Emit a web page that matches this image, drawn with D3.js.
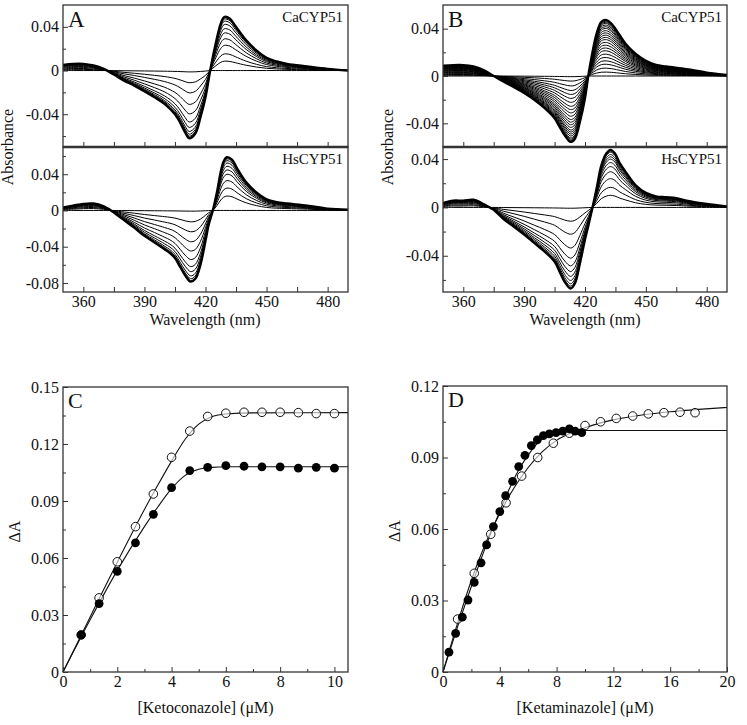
<!DOCTYPE html>
<html>
<head>
<meta charset="utf-8">
<script src="https://cdn.jsdelivr.net/npm/d3@7"></script>
<style>
  body { margin: 0; background: #fff; }
  svg text { font-family: "Liberation Serif", "Times New Roman", serif; fill: #111; }
  .tick text { font-size: 16px; }
  .tick line { stroke: #333; }
</style>
</head>
<body>
<div id="chart"></div>
<script>
// ---- data ----
// thickest (saturated) difference spectrum of each sub-panel: [nm, absorbance]
const caKetoBase = [[350,0.0052],[355,0.0061],[360,0.0061],[365,0.0046],[370,0.0015],[375,-0.0037],[380,-0.0092],[385,-0.0138],[390,-0.019],[395,-0.0245],[400,-0.0307],[405,-0.040],[407.5,-0.0475],[410,-0.0567],[412,-0.062],[415,-0.0576],[417.5,-0.043],[420,-0.0245],[422.3,0],[425,0.0245],[427.5,0.043],[429.2,0.049],[432,0.0475],[434.6,0.041],[440,0.0276],[445,0.0184],[450,0.0116],[455,0.0083],[460,0.0061],[470,0.0037],[480,0.0015],[490,0]];
const hsKetoBase = [[350,0.0034],[355,0.0053],[360,0.0072],[365,0.0076],[370,0.0046],[373,0.0008],[375,-0.0023],[380,-0.0107],[385,-0.019],[390,-0.028],[395,-0.0354],[400,-0.043],[402.5,-0.047],[405,-0.0526],[407.5,-0.062],[410,-0.0716],[412.7,-0.0785],[415,-0.0754],[417.5,-0.060],[420,-0.0335],[421.5,-0.0164],[423.6,0],[425.6,0.0198],[427.5,0.0427],[428.9,0.054],[430.5,0.0587],[433,0.056],[435.5,0.0465],[440,0.031],[445,0.0198],[450,0.0122],[455,0.0091],[460,0.0076],[470,0.0053],[480,0.0019],[490,0.0008]];
const caKetaBase = [[350,0.0086],[355,0.0092],[360,0.0092],[365,0.008],[370,0.0049],[375,0],[380,-0.0049],[385,-0.0094],[390,-0.0143],[395,-0.020],[400,-0.027],[405,-0.0357],[407.5,-0.043],[410,-0.050],[412.9,-0.0557],[415,-0.053],[417.5,-0.0386],[420,-0.0186],[421.6,0],[423.2,0.0157],[425.7,0.0357],[428.1,0.0458],[430.6,0.0472],[433,0.0443],[435.5,0.0386],[440,0.0272],[445,0.0186],[450,0.0129],[455,0.0094],[460,0.008],[470,0.0057],[480,0.0029],[490,0.0009]];
const hsKetaBase = [[350,0.0036],[355,0.0056],[360,0.0056],[365,0.0064],[370,0.0028],[373,0],[375,-0.002],[380,-0.0098],[385,-0.016],[390,-0.0224],[395,-0.0294],[400,-0.0364],[405,-0.0448],[407.5,-0.0532],[410,-0.0616],[412.9,-0.0672],[415,-0.063],[417.5,-0.0462],[420,-0.0266],[421.6,-0.0154],[423.7,0],[425.7,0.0154],[428.1,0.035],[430.6,0.0448],[432.6,0.0476],[434.7,0.0448],[437.2,0.0364],[440,0.0294],[445,0.0182],[450,0.012],[455,0.0092],[460,0.0084],[465,0.0076],[470,0.0056],[480,0.0028],[490,0.0008]];

// relative size of each titration spectrum (peak side / trough side)
const caKetoPos = [0, 0.175, 0.31, 0.47, 0.59, 0.70, 0.78, 0.86, 0.92, 0.96, 0.985, 1.0];
const caKetoNeg = [0.02, 0.18, 0.33, 0.50, 0.64, 0.76, 0.84, 0.90, 0.94, 0.97, 0.99, 1.0];
const hsKetoPos = [0, 0.27, 0.42, 0.56, 0.68, 0.76, 0.83, 0.89, 0.935, 0.97, 0.99, 1.0];
const hsKetoNeg = [0.01, 0.16, 0.30, 0.44, 0.57, 0.69, 0.79, 0.86, 0.92, 0.96, 0.99, 1.0];
const caKetaPos = [0, 0.07, 0.14, 0.21, 0.27, 0.33, 0.39, 0.45, 0.50, 0.55, 0.60, 0.65, 0.69, 0.73, 0.77, 0.81, 0.85, 0.88, 0.91, 0.94, 0.96, 0.98, 1.0];
const caKetaNeg = [0.01, 0.077, 0.15, 0.22, 0.28, 0.34, 0.40, 0.46, 0.51, 0.56, 0.61, 0.66, 0.70, 0.74, 0.78, 0.82, 0.85, 0.88, 0.91, 0.94, 0.96, 0.98, 1.0];
const hsKetaPos = [0, 0.21, 0.35, 0.50, 0.62, 0.71, 0.78, 0.84, 0.88, 0.92, 0.96, 0.98, 1.0];
const hsKetaNeg = [0.01, 0.17, 0.33, 0.50, 0.625, 0.72, 0.79, 0.85, 0.90, 0.94, 0.97, 0.99, 1.0];

// panel C : ketoconazole titration
const ketoConc = [0.67, 1.33, 2, 2.67, 3.33, 4, 4.67, 5.33, 6, 6.67, 7.33, 8, 8.67, 9.33, 10];
const ketoOpen = [0.0195, 0.039, 0.058, 0.0765, 0.0937, 0.113, 0.1268, 0.1345, 0.1362, 0.1367, 0.1367, 0.1367, 0.1365, 0.136, 0.136];
const ketoFilled = [0.0195, 0.036, 0.053, 0.068, 0.083, 0.097, 0.106, 0.1077, 0.1086, 0.1083, 0.108, 0.108, 0.1073, 0.1077, 0.1073];
const ketoOpenFit = [[0,0],[1,0.029],[2,0.0578],[3,0.0855],[3.5,0.0985],[4,0.111],[4.5,0.1225],[5,0.1305],[5.5,0.1345],[6,0.1358],[7,0.1364],[10.5,0.1365]];
const ketoFilledFit = [[0,0],[1,0.0275],[2,0.0535],[3,0.0765],[3.5,0.087],[4,0.0965],[4.5,0.1035],[5,0.1067],[5.5,0.1077],[6,0.108],[10.5,0.108]];

// panel D : ketaminazole titration
const ketaConcFilled = [0.42, 0.89, 1.36, 1.76, 2.2, 2.68, 3.07, 3.55, 4.0, 4.41, 4.9, 5.33, 5.77, 6.22, 6.64, 7.07, 7.49, 7.96, 8.43, 8.9, 9.3, 9.77];
const ketaFilled = [0.0083, 0.0162, 0.023, 0.0302, 0.0376, 0.0458, 0.0533, 0.061, 0.0673, 0.074, 0.080, 0.0862, 0.0909, 0.095, 0.0974, 0.0992, 0.0999, 0.1004, 0.1011, 0.102, 0.1011, 0.1004];
const ketaConcOpen = [1.03, 2.2, 3.36, 4.44, 5.54, 6.67, 7.77, 8.9, 10.0, 11.1, 12.2, 13.36, 14.46, 15.56, 16.69, 17.75];
const ketaOpen = [0.0222, 0.0414, 0.0578, 0.071, 0.0822, 0.090, 0.096, 0.1002, 0.1034, 0.105, 0.1064, 0.1074, 0.1083, 0.1088, 0.109, 0.1088];
const ketaFilledFit = [[0,0],[1,0.0185],[2,0.036],[3,0.0525],[4,0.0675],[5,0.081],[5.5,0.0865],[6,0.091],[6.5,0.095],[7,0.0978],[7.5,0.0995],[8,0.1005],[9,0.1011],[10,0.1013],[20,0.1013]];
const ketaOpenFit = [[0,0],[1,0.020],[2,0.0385],[3,0.054],[4,0.0665],[5,0.0772],[6,0.0858],[7,0.0925],[8,0.0972],[9,0.1002],[10,0.1025],[12,0.1058],[14,0.1078],[16,0.1092],[18,0.1102],[20,0.111]];

// ---- drawing ----
const W = 747, H = 725;
const svg = d3.select("#chart").append("svg").attr("width", W).attr("height", H);
const frameColor = "#333";
const fmt = d => d === 0 ? "0" : d3.format(".2f")(d).replace("\u2212", "-");

const addTicks = (g, axis, vals, size, fmtFn) => {
  g.call(axis.tickValues(vals).tickSizeInner(-size).tickSizeOuter(0).tickPadding(4).tickFormat(fmtFn));
  g.attr("font-family", null).attr("font-size", null);
  g.select(".domain").remove();
};

let clipId = 0;
const spectrumPanel = (x0, x1, y0, y1, yDomain, yMajors, yMinors, base, pos, neg, name, letter, showX) => {
  const x = d3.scaleLinear().domain([350, 490]).range([x0, x1]);
  const y = d3.scaleLinear().domain(yDomain).range([y1, y0]);
  const g = svg.append("g");
  const id = "clip" + (clipId++);
  svg.append("clipPath").attr("id", id).append("rect")
    .attr("x", x0).attr("y", y0).attr("width", x1 - x0).attr("height", y1 - y0);

  const line = d3.line().x(d => x(d[0])).y(d => y(d[1])).curve(d3.curveCatmullRom.alpha(0.5));
  const curves = g.append("g").attr("clip-path", `url(#${id})`);
  pos.forEach((p, i) => {
    const n = neg[i];
    const pts = base.map(d => [d[0], d[1] > 0 ? d[1] * p : d[1] * n]);
    curves.append("path")
      .attr("d", line(pts))
      .attr("fill", "none")
      .attr("stroke", "#000")
      .attr("stroke-width", i === pos.length - 1 ? 2.4 : 1.0);
  });

  // ticks
  addTicks(g.append("g").attr("transform", `translate(${x0},0)`), d3.axisLeft(y), yMajors, 5, fmt);
  addTicks(g.append("g").attr("transform", `translate(${x0},0)`), d3.axisLeft(y), yMinors, 3, "");
  addTicks(g.append("g").attr("transform", `translate(0,${y1})`), d3.axisBottom(x),
    d3.range(360, 490, 15), 5, showX ? (d => d % 30 === 0 ? d : "") : "");

  g.append("rect").attr("x", x0).attr("y", y0).attr("width", x1 - x0).attr("height", y1 - y0)
    .attr("fill", "none").attr("stroke", frameColor).attr("stroke-width", 1.3);

  g.append("text").attr("x", x1 - 5).attr("y", y0 + 17).attr("text-anchor", "end")
    .style("font-size", "15px").text(name);
  if (letter) g.append("text").attr("x", x0 + 5).attr("y", y0 + 22)
    .style("font-size", "23px").text(letter);
};

// panel A
spectrumPanel(63, 348, 5, 147, [-0.07, 0.06], [-0.04, 0, 0.04], [-0.06, -0.02, 0.02],
  caKetoBase, caKetoPos, caKetoNeg, "CaCYP51", "A", false);
spectrumPanel(63, 348, 147, 292, [-0.09, 0.07], [-0.08, -0.04, 0, 0.04], [-0.06, -0.02, 0.02, 0.06],
  hsKetoBase, hsKetoPos, hsKetoNeg, "HsCYP51", null, true);
// panel B
spectrumPanel(443, 727, 5, 147, [-0.06, 0.06], [-0.04, 0, 0.04], [-0.02, 0.02],
  caKetaBase, caKetaPos, caKetaNeg, "CaCYP51", "B", false);
spectrumPanel(443, 727, 147, 292, [-0.07, 0.05], [-0.04, 0, 0.04], [-0.06, -0.02, 0.02],
  hsKetaBase, hsKetaPos, hsKetaNeg, "HsCYP51", null, true);

// thicker divider between the sub-panels
[[63, 348], [443, 727]].forEach(([a, b]) => {
  svg.append("line").attr("x1", a).attr("x2", b).attr("y1", 147).attr("y2", 147)
    .attr("stroke", frameColor).attr("stroke-width", 2.6);
});

[205, 585].forEach(cx => {
  svg.append("text").attr("x", cx).attr("y", 325).attr("text-anchor", "middle")
    .style("font-size", "16px").text("Wavelength (nm)");
});
[13, 393].forEach(cx => {
  svg.append("text").attr("transform", `translate(${cx},147) rotate(-90)`).attr("text-anchor", "middle")
    .style("font-size", "16px").text("Absorbance");
});

// titration panels
const bindingPanel = (x0, x1, y0, y1, xDomain, yDomain, xMajors, xMinors, yMajors, yMinors,
                      openX, openY, fillX, fillY, openFit, fillFit, letter, xLabel) => {
  const x = d3.scaleLinear().domain(xDomain).range([x0, x1]);
  const y = d3.scaleLinear().domain(yDomain).range([y1, y0]);
  const g = svg.append("g");

  addTicks(g.append("g").attr("transform", `translate(${x0},0)`), d3.axisLeft(y), yMajors, 5, fmt);
  addTicks(g.append("g").attr("transform", `translate(${x0},0)`), d3.axisLeft(y), yMinors, 3, "");
  addTicks(g.append("g").attr("transform", `translate(0,${y1})`), d3.axisBottom(x), xMajors, 5, d => d);
  addTicks(g.append("g").attr("transform", `translate(0,${y1})`), d3.axisBottom(x), xMinors, 3, "");

  const line = d3.line().x(d => x(d[0])).y(d => y(d[1])).curve(d3.curveMonotoneX);
  [openFit, fillFit].forEach(f => {
    g.append("path").attr("d", line(f)).attr("fill", "none").attr("stroke", "#111").attr("stroke-width", 1.1);
  });

  g.append("g").selectAll("circle").data(openX).join("circle")
    .attr("cx", d => x(d)).attr("cy", (d, i) => y(openY[i])).attr("r", 4.3)
    .attr("fill", "#fff").attr("fill-opacity", 0.6).attr("stroke", "#111").attr("stroke-width", 1);
  g.append("g").selectAll("circle").data(fillX).join("circle")
    .attr("cx", d => x(d)).attr("cy", (d, i) => y(fillY[i])).attr("r", 4.4)
    .attr("fill", "#000");

  g.append("rect").attr("x", x0).attr("y", y0).attr("width", x1 - x0).attr("height", y1 - y0)
    .attr("fill", "none").attr("stroke", frameColor).attr("stroke-width", 1.3);

  g.append("text").attr("x", x0 + 5).attr("y", y0 + 21).style("font-size", "22px").text(letter);
  g.append("text").attr("x", (x0 + x1) / 2).attr("y", 713).attr("text-anchor", "middle")
    .style("font-size", "16px").text(xLabel);
  g.append("text").attr("transform", `translate(${x0 - 43},${(y0 + y1) / 2 + 2}) rotate(-90)`)
    .attr("text-anchor", "middle").style("font-size", "16px").text("\u0394A");
};

bindingPanel(63, 348, 387, 672, [0, 10.5], [0, 0.15],
  [0, 2, 4, 6, 8, 10], [1, 3, 5, 7, 9], [0, 0.03, 0.06, 0.09, 0.12, 0.15], [0.015, 0.045, 0.075, 0.105, 0.135],
  ketoConc, ketoOpen, ketoConc, ketoFilled, ketoOpenFit, ketoFilledFit, "C", "[Ketoconazole] (\u03BCM)");

bindingPanel(443, 727, 386, 672, [0, 20], [0, 0.12],
  [0, 4, 8, 12, 16, 20], [2, 6, 10, 14, 18], [0, 0.03, 0.06, 0.09, 0.12], [0.015, 0.045, 0.075, 0.105],
  ketaConcOpen, ketaOpen, ketaConcFilled, ketaFilled, ketaOpenFit, ketaFilledFit, "D", "[Ketaminazole] (\u03BCM)");
</script>
</body>
</html>
